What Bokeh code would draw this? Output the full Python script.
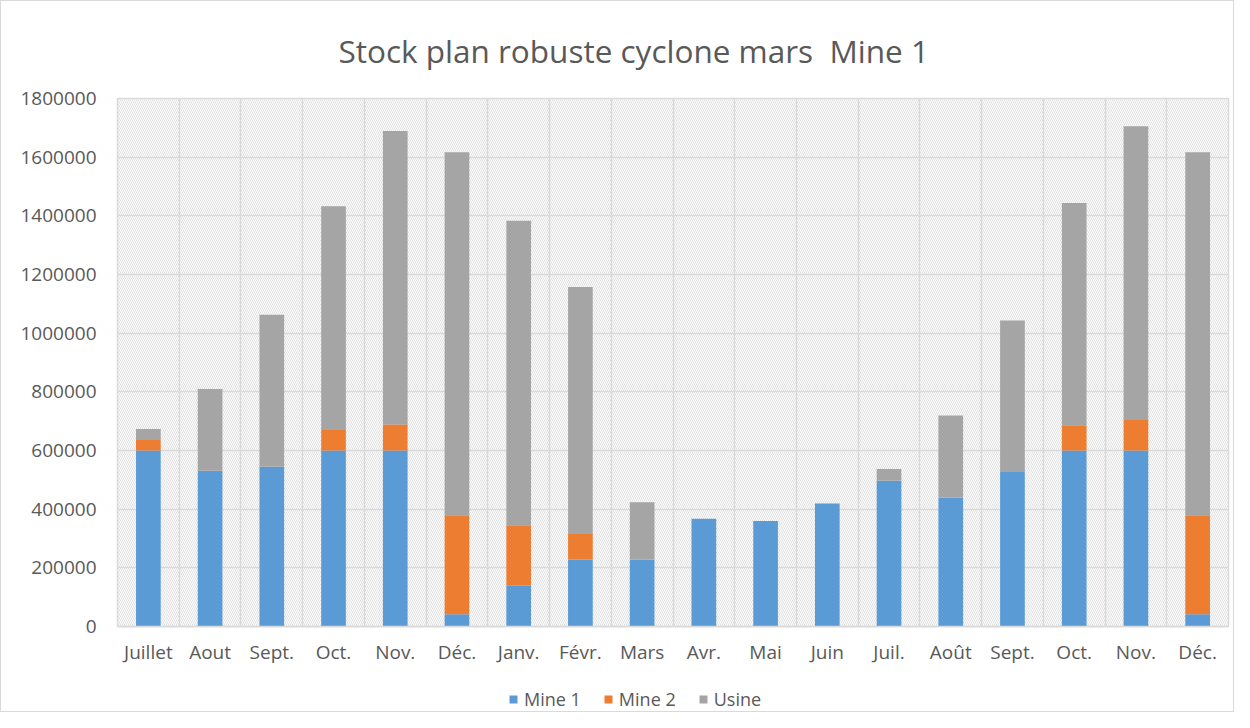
from bokeh.plotting import figure
from bokeh.layouts import column
from bokeh.models import (Range1d, FixedTicker, BoxAnnotation, Legend, LegendItem,
                          BasicTickFormatter, ColumnDataSource)
from bokeh.embed import file_html
from bokeh.resources import INLINE

months = ["Juillet", "Aout", "Sept.", "Oct.", "Nov.", "Déc.", "Janv.", "Févr.", "Mars",
          "Avr.", "Mai", "Juin", "Juil.", "Août", "Sept.", "Oct.", "Nov.", "Déc."]
mine1 = [600000, 531000, 545000, 600000, 600000, 42000, 139000, 228000, 228000,
         367000, 360000, 419000, 497000, 440000, 527000, 600000, 600000, 42000]
mine2 = [36000, 0, 0, 70000, 89000, 337000, 206000, 87000, 0,
         0, 0, 0, 0, 0, 0, 86000, 104000, 337000]
usine = [37000, 279000, 518000, 763000, 1000000, 1238000, 1038000, 842000, 196000,
         0, 0, 0, 40000, 279000, 516000, 758000, 1001000, 1238000]
series = ["Mine 1", "Mine 2", "Usine"]
colors = ["#5B9BD5", "#ED7D31", "#A5A5A5"]
y_ticks = [0, 200000, 400000, 600000, 800000, 1000000, 1200000, 1400000, 1600000, 1800000]

n = len(months)
xs = list(range(n))
src = ColumnDataSource(dict(x=xs, mine1=mine1, mine2=mine2, usine=usine))

TEXT = "#595959"
GRID = "#D9D9D9"
FONT = "Open Sans"

p = figure(width=1232, height=666, output_backend="svg", toolbar_location=None,
           x_range=Range1d(-0.5, n - 0.5), y_range=Range1d(y_ticks[0], y_ticks[-1]),
           min_border_left=116, min_border_right=5, min_border_top=97, min_border_bottom=32,
           title="Stock plan robuste cyclone mars \u00a0Mine 1")

p.title.align = "left"
p.title.offset = 221
p.title.vertical_align = "middle"
p.title.text_font = FONT
p.title.text_font_size = "31.5px"
p.title.text_font_style = "normal"
p.title.text_color = TEXT
p.title.standoff = 52

# hatched plot area background
bg = BoxAnnotation(fill_alpha=0, line_alpha=0, hatch_pattern="\\", hatch_color="#E0E0E0",
                   hatch_scale=4, hatch_weight=1, level="image")
p.add_layout(bg)

p.outline_line_color = GRID
p.outline_line_width = 1.5

p.vbar_stack(["mine1", "mine2", "usine"], x="x", width=0.4, color=colors,
             line_color=None, source=src)

# axes
p.yaxis.ticker = FixedTicker(ticks=y_ticks)
p.yaxis.formatter = BasicTickFormatter(use_scientific=False)
p.yaxis.axis_line_color = None
p.yaxis.major_tick_line_color = None
p.yaxis.minor_tick_line_color = None
p.yaxis.major_label_standoff = 15
p.yaxis.major_label_text_font = FONT
p.yaxis.major_label_text_font_size = "19px"
p.yaxis.major_label_text_color = TEXT

p.xaxis.ticker = FixedTicker(ticks=xs)
p.xaxis.major_label_overrides = {i: m for i, m in enumerate(months)}
p.xaxis.axis_line_color = GRID
p.xaxis.axis_line_width = 1.5
p.xaxis.major_tick_line_color = None
p.xaxis.minor_tick_line_color = None
p.xaxis.major_label_standoff = 6
p.xaxis.major_label_text_font = FONT
p.xaxis.major_label_text_font_size = "19px"
p.xaxis.major_label_text_color = TEXT

p.xgrid.ticker = FixedTicker(ticks=[i - 0.5 for i in range(n + 1)])
p.xgrid.grid_line_color = GRID
p.xgrid.grid_line_width = 1.5
p.ygrid.grid_line_color = GRID
p.ygrid.grid_line_width = 1.5

# legend strip below the chart (hidden copies of the series provide the swatches)
lg = figure(width=1232, height=44, output_backend="svg", toolbar_location=None,
            x_axis_location=None, y_axis_location=None, min_border=0,
            x_range=Range1d(0, 1), y_range=Range1d(0, 1), outline_line_color=None)
lg.grid.visible = False
leg_r = lg.vbar_stack(["mine1", "mine2", "usine"], x="x", width=0.4, color=colors,
                      line_color=None, source=src)
for r in leg_r:
    r.visible = False
legend = Legend(items=[LegendItem(label=s, renderers=[r]) for s, r in zip(series, leg_r)],
                location=(391, 0), orientation="horizontal",
                background_fill_alpha=0, border_line_color=None,
                glyph_width=10, glyph_height=10, label_standoff=6, spacing=22,
                label_text_font=FONT, label_text_font_size="18px", label_text_color=TEXT,
                padding=0, margin=0)
lg.add_layout(legend)

layout = column(p, lg, styles={"border": "1px solid #D9D9D9"})

open("out.html", "w").write(file_html(layout, INLINE))
